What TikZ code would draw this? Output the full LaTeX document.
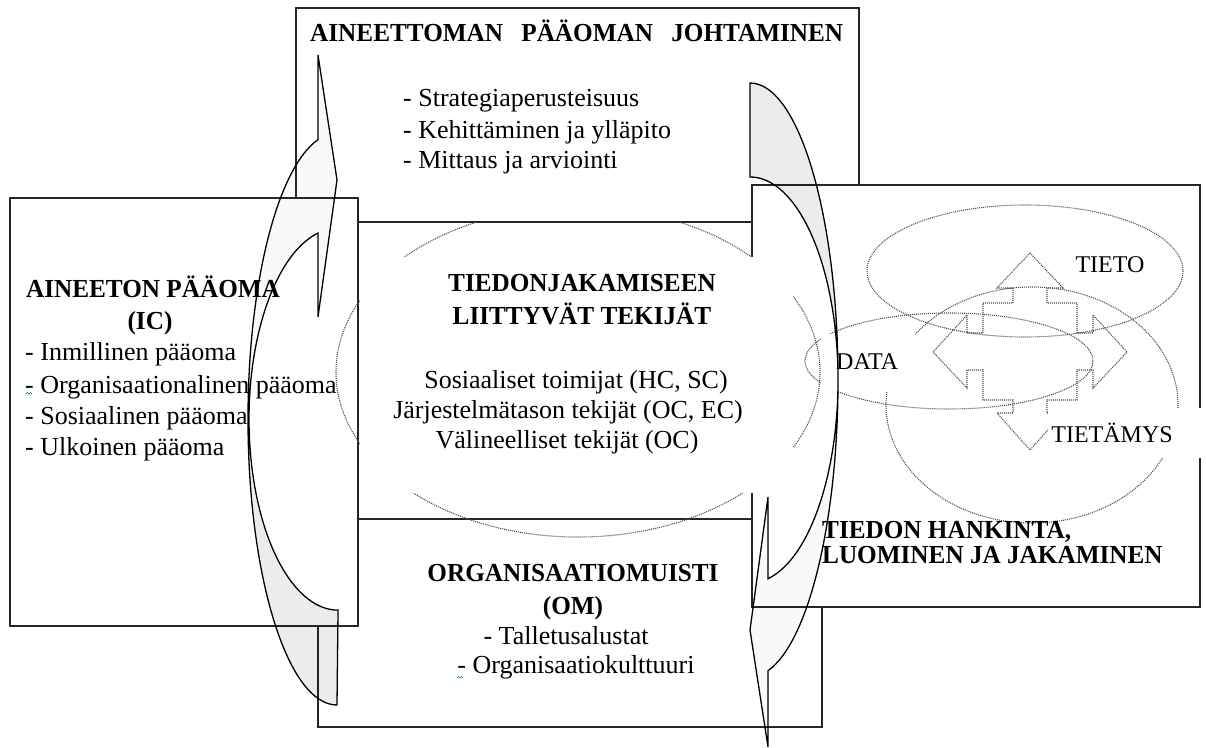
\documentclass[tikz,border=0pt]{standalone}
\usepackage{fontspec}
\setmainfont{Liberation Serif}
\newfontfamily\bodyfont{Liberation Serif}[FakeStretch=1.0]
\newfontfamily\headfont{Liberation Serif}[FakeStretch=0.97]
\begin{document}
\begin{tikzpicture}[x=1pt,y=-1pt,
  panel/.style={draw=black!85, line width=1.4pt, fill=white},
  dots/.style={draw=black!70, line width=1.1pt, dash pattern=on 1pt off 1pt},
  bendline/.style={draw=black, line width=1.3pt, line join=miter},
  txt/.style={inner sep=0pt, font=\bodyfont\fontsize{26}{31}\selectfont},
  smalltxt/.style={inner sep=0pt, font=\bodyfont\fontsize{24}{28}\selectfont},
  head/.style={inner sep=0pt, font=\headfont\bfseries\fontsize{26}{31}\selectfont},
  squiggle/.style={draw=green!55!black, line width=0.6pt}]
\useasboundingbox (0,0) rectangle (1206,747);

% the four framed panels (white filled, later ones cover the earlier)
\draw[panel] (296,8) rectangle (859,222);
\draw[panel] (318,519) rectangle (822,727);
\draw[panel] (10,198) rectangle (358,626);
\draw[panel] (752,185) rectangle (1200,607);

% dotted ellipse around the central factors
\begin{scope}
  \clip (0,222) rectangle (1206,747);
  \draw[dots] (578,372) ellipse[x radius=242, y radius=165];
\end{scope}
% white text area of the central block
\fill[white] (360,257) rectangle (793,493);

% data - information - knowledge
\draw[dots] (1025,271) ellipse[x radius=158, y radius=66];
\draw[dots] (949,361) ellipse[x radius=144, y radius=48];
\draw[dots] (1032,405) ellipse[x radius=146, y radius=118];
\draw[dots] (1030,253) -- (1063,288) -- (1047,288) -- (1047,303) -- (1077,303)
  -- (1077,333) -- (1093,333) -- (1093,315) -- (1127,352) -- (1093,388)
  -- (1093,370) -- (1077,370) -- (1077,400) -- (1047,400) -- (1047,413)
  -- (1063,413) -- (1030,450) -- (997,413) -- (1013,413) -- (1013,400)
  -- (983,400) -- (983,370) -- (967,370) -- (967,388) -- (933,352)
  -- (967,315) -- (967,333) -- (983,333) -- (983,303) -- (1013,303)
  -- (1013,288) -- (997,288) -- cycle;
\fill[white] (821,334) rectangle (915,392);
\fill[white] (1048,408) rectangle (1206,458);

% texts: management of intangible capital
\node[head, anchor=base west] (ttl) at (310,41)
  {\makebox[533pt]{AINEETTOMAN\hfill PÄÄOMAN\hfill JOHTAMINEN}};
\node[txt, anchor=base west] (m1) at (403,106) {- Strategiaperusteisuus};
\node[txt, anchor=base west] (m2) at (403,138) {- Kehittäminen ja ylläpito};
\node[txt, anchor=base west] (m3) at (403,168) {- Mittaus ja arviointi};

% texts: intangible capital
\node[head, anchor=base] (ic1) at (153,297) {AINEETON PÄÄOMA};
\node[head, anchor=base] (ic2) at (150,329) {(IC)};
\node[txt, anchor=base west] (ic3) at (25,360) {- Inmillinen pääoma};
\node[txt, anchor=base west] (ic4) at (25,393) {- Organisaationalinen pääoma};
\node[txt, anchor=base west] (ic5) at (25,424) {- Sosiaalinen pääoma};
\node[txt, anchor=base west] (ic6) at (25,455) {- Ulkoinen pääoma};

% texts: knowledge sharing factors
\node[head, anchor=base] (k1) at (582,291) {TIEDONJAKAMISEEN};
\node[head, anchor=base] (k2) at (582,324) {LIITTYVÄT TEKIJÄT};
\node[txt, anchor=base] (k3) at (576,388) {Sosiaaliset toimijat (HC, SC)};
\node[txt, anchor=base] (k4) at (568,418) {Järjestelmätason tekijät (OC, EC)};
\node[txt, anchor=base] (k5) at (567,448) {Välineelliset tekijät (OC)};

% texts: organisational memory
\node[head, anchor=base] (om1) at (573,581) {ORGANISAATIOMUISTI};
\node[head, anchor=base] (om2) at (573,614) {(OM)};
\node[txt, anchor=base] (om3) at (566,644) {- Talletusalustat};
\node[txt, anchor=base] (om4) at (576,673) {- Organisaatiokulttuuri};

% texts: knowledge acquisition, creation and sharing
\node[head, anchor=base west] (h1) at (822,538) {TIEDON HANKINTA,};
\node[head, anchor=base west] (h2) at (822,563) {LUOMINEN JA JAKAMINEN};
\node[smalltxt, anchor=base] (tieto) at (1110,272) {TIETO};
\node[smalltxt, anchor=base west] (data) at (836,369) {DATA};
\node[smalltxt, anchor=base] (tietamys) at (1112,442) {TIETÄMYS};

% spelling marks
\draw[squiggle] (26,394) -- (27.5,392.5) -- (29,394) -- (30.5,392.5) -- (32,394);
\draw[squiggle] (457,678) -- (458.5,676.5) -- (460,678) -- (461.5,676.5) -- (463,678);

% curved arrow on the left (points up to the management block)
\fill[black, fill opacity=0.025] (337,705) arc[start angle=90,end angle=257.7,x radius=89,y radius=286]
  -- (318,55) -- (337,180) -- (318,317) -- (318,233)
  arc[start angle=257,end angle=90,x radius=89,y radius=191] -- cycle;
\fill[black, fill opacity=0.05] (337,705) arc[start angle=90,end angle=180,x radius=89,y radius=286]
  arc[start angle=180,end angle=90,x radius=89,y radius=191] -- cycle;
\draw[bendline] (337,705) arc[start angle=90,end angle=257.7,x radius=89,y radius=286]
  -- (318,55) -- (337,180) -- (318,317) -- (318,233)
  arc[start angle=257,end angle=90,x radius=89,y radius=191] -- cycle;

% curved arrow on the right (points down to the memory block)
\fill[black, fill opacity=0.025] (750,83) arc[start angle=-90,end angle=78.2,x radius=88,y radius=297]
  -- (768,747) -- (750,630) -- (768,497) -- (768,578.7)
  arc[start angle=78.2,end angle=-90,x radius=88,y radius=203] -- cycle;
\fill[black, fill opacity=0.05] (750,83) arc[start angle=-90,end angle=0,x radius=88,y radius=297]
  arc[start angle=0,end angle=-90,x radius=88,y radius=203] -- cycle;
\draw[bendline] (750,83) arc[start angle=-90,end angle=78.2,x radius=88,y radius=297]
  -- (768,747) -- (750,630) -- (768,497) -- (768,578.7)
  arc[start angle=78.2,end angle=-90,x radius=88,y radius=203] -- cycle;
\end{tikzpicture}
\end{document}
